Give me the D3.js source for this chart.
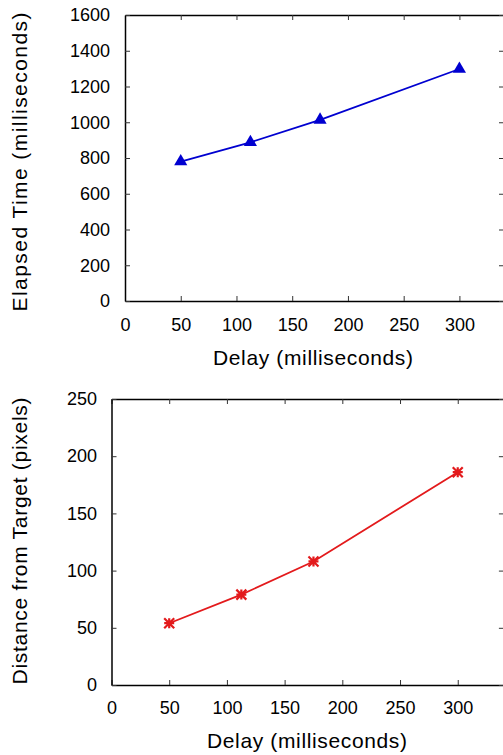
<!DOCTYPE html>
<html>
<head>
<meta charset="utf-8">
<script src="https://cdn.jsdelivr.net/npm/d3@7"></script>
<style>
  body { margin: 0; background: #fff; }
  svg { display: block; font-family: 'Liberation Sans', Arial, sans-serif; }
  .tick line { stroke: #333; }
  .domain { stroke: #000; stroke-width: 1.5px; }
</style>
</head>
<body>
<div id="chart"></div>
<script>
// Data
const delays = [50, 112.5, 175, 300];
const elapsedTime = [780, 888, 1013, 1298];
const distance = [54, 79, 108, 186];

const xTicks = [0, 50, 100, 150, 200, 250, 300];
const elapsedTicks = [0, 200, 400, 600, 800, 1000, 1200, 1400, 1600];
const distanceTicks = [0, 50, 100, 150, 200, 250];

const svg = d3.select('#chart')
  .append('svg')
  .attr('width', 503)
  .attr('height', 755);

const fmt = d3.format('d');

function panel(opts) {
  const g = svg.append('g')
    .attr('transform', 'translate(' + opts.left + ',' + opts.top + ')');

  const x = d3.scaleLinear().domain([0, 340]).range([0, opts.width]);
  const y = d3.scaleLinear().domain(opts.yDomain).range([opts.height, 0]);

  // Axes with inward ticks, mirrored on top and right
  g.append('g')
    .attr('transform', 'translate(0,' + opts.height + ')')
    .call(d3.axisBottom(x).tickValues(xTicks).tickFormat(fmt).tickSizeInner(-5).tickSizeOuter(0).tickPadding(opts.xPad))
    .call(s => s.selectAll('text').attr('font-size', 18).attr('fill', '#000'));
  g.append('g')
    .call(d3.axisTop(x).tickValues(xTicks).tickSizeInner(-5).tickSizeOuter(0).tickFormat(''));
  g.append('g')
    .call(d3.axisLeft(y).tickValues(opts.yTicks).tickFormat(fmt).tickSizeInner(-5).tickSizeOuter(0).tickPadding(opts.yPad))
    .call(s => s.selectAll('text').attr('font-size', 18).attr('fill', '#000'));
  g.append('g')
    .attr('transform', 'translate(' + opts.width + ',0)')
    .call(d3.axisRight(y).tickValues(opts.yTicks).tickSizeInner(-5).tickSizeOuter(0).tickFormat(''));

  // Series line
  const pts = delays.map((d, i) => [d, opts.values[i]]);
  g.append('path')
    .attr('fill', 'none')
    .attr('stroke', opts.color)
    .attr('stroke-width', 1.8)
    .attr('d', d3.line().x(d => x(d[0])).y(d => y(d[1]))(pts));

  // Markers
  if (opts.marker === 'triangle') {
    g.selectAll('.pt')
      .data(pts)
      .enter()
      .append('path')
      .attr('transform', d => 'translate(' + x(d[0]) + ',' + y(d[1]) + ')')
      .attr('d', d3.symbol().type(d3.symbolTriangle).size(75))
      .attr('fill', opts.color);
  } else {
    const r = 5;
    g.selectAll('.pt')
      .data(pts)
      .enter()
      .append('path')
      .attr('transform', d => 'translate(' + x(d[0]) + ',' + y(d[1]) + ')')
      .attr('d', 'M' + -r + ',0H' + r + 'M0,' + -r + 'V' + r +
        'M' + -r + ',' + -r + 'L' + r + ',' + r + 'M' + -r + ',' + r + 'L' + r + ',' + -r)
      .attr('stroke', opts.color)
      .attr('stroke-width', 2.2)
      .attr('fill', 'none');
  }

  // Axis labels
  g.append('text')
    .attr('x', opts.xLabelX)
    .attr('y', opts.height + opts.xLabelDy)
    .attr('text-anchor', 'middle')
    .attr('font-size', 21)
    .attr('textLength', 200)
    .text('Delay (milliseconds)');
  g.append('text')
    .attr('transform', 'rotate(-90)')
    .attr('x', -opts.yLabelY)
    .attr('y', 27 - opts.left)
    .attr('text-anchor', 'middle')
    .attr('font-size', 21)
    .attr('textLength', opts.yLabelLen)
    .text(opts.yLabel);
}

panel({
  left: 125, top: 15, width: 379, height: 286,
  yDomain: [0, 1600], yTicks: elapsedTicks, values: elapsedTime,
  color: '#0000d0', marker: 'triangle',
  xPad: 17, yPad: 15,
  xLabelX: 313 - 125, xLabelDy: 64,
  yLabel: 'Elapsed Time (milliseconds)', yLabelY: 162 - 15, yLabelLen: 299
});

panel({
  left: 111.5, top: 399, width: 392.4, height: 286,
  yDomain: [0, 250], yTicks: distanceTicks, values: distance,
  color: '#e31a1c', marker: 'star',
  xPad: 16, yPad: 14.5,
  xLabelX: 307 - 111.5, xLabelDy: 63,
  yLabel: 'Distance from Target (pixels)', yLabelY: 541 - 399, yLabelLen: 287
});
</script>
</body>
</html>
